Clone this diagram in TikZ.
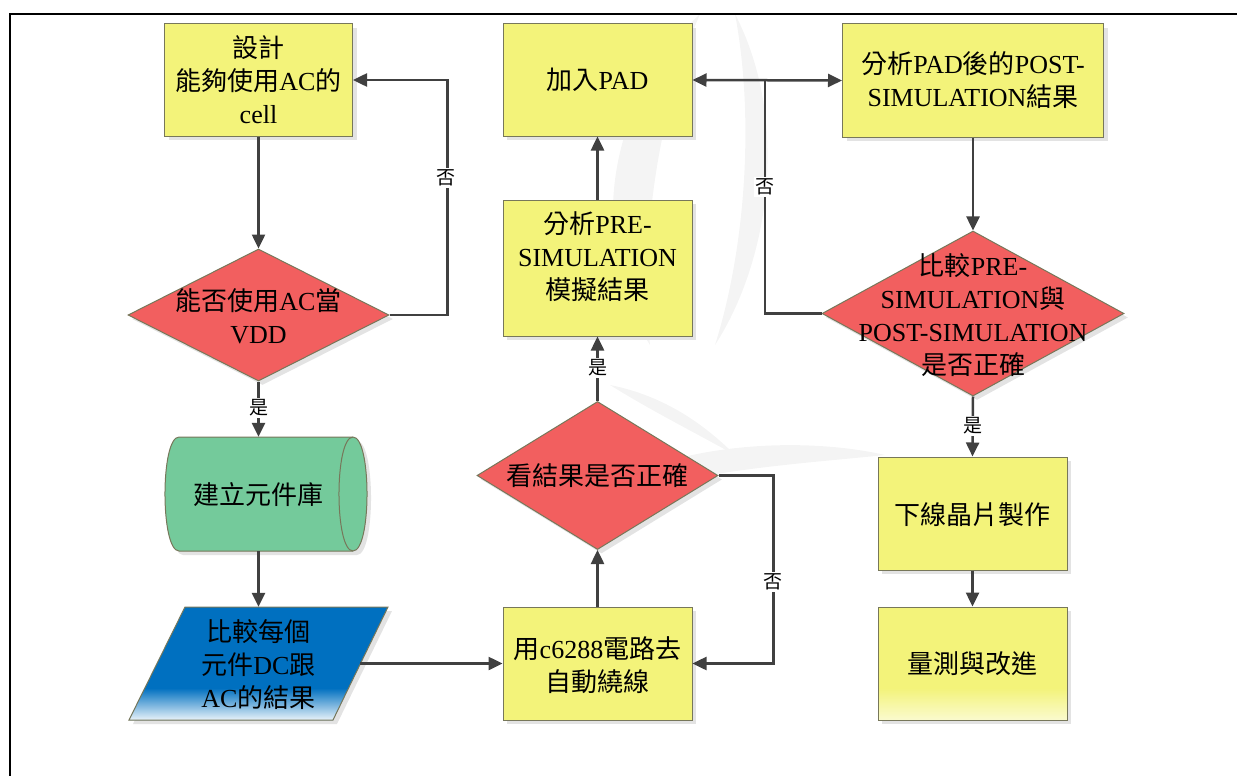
\documentclass[tikz,border=0pt]{standalone}
\usepackage{fontspec}
\setmainfont{Liberation Serif}
\newfontfamily\cjk{Noto Sans CJK TC}
\newcommand\zh[1]{{\cjk #1}}
\usetikzlibrary{shapes.geometric,arrows.meta,shadows}

\definecolor{boxyellow}{HTML}{F3F37A}
\definecolor{boxedge}{HTML}{77775A}
\definecolor{decred}{HTML}{F25F5F}
\definecolor{storegreen}{HTML}{74CA9B}
\definecolor{ioblue}{HTML}{0070C0}
\definecolor{linegray}{HTML}{404040}
\definecolor{shadowgray}{HTML}{E3E3E3}
\definecolor{wmgray}{HTML}{F4F4F4}

\begin{document}
\begin{tikzpicture}[x=1bp,y=-1bp,
  shapebase/.style={draw=boxedge, line width=1bp, inner sep=0pt,
    drop shadow={shadow xshift=4bp, shadow yshift=-4bp, fill=shadowgray, opacity=1}},
  procbox/.style={shapebase, rectangle, fill=boxyellow, minimum width=189bp, minimum height=113bp},
  decision/.style={shapebase, diamond, fill=decred},
  txt/.style={font=\fontsize{26bp}{33bp}\selectfont, align=center, inner sep=0pt},
  conn/.style={draw=linegray, line width=2.5bp},
  flow/.style={conn, -{Triangle[length=14bp,width=13bp]}},
  tag/.style={font=\cjk\fontsize{19bp}{22bp}\selectfont, fill=white, inner sep=2bp},
]
\useasboundingbox (0,0) rectangle (1237,776);

% faint watermark behind the chart
\fill[wmgray] (700,14) .. controls (600,110) and (590,250) .. (650,345)
  .. controls (640,250) and (655,120) .. (700,14);
\fill[wmgray] (735,14) .. controls (790,120) and (770,260) .. (715,345)
  .. controls (745,250) and (755,120) .. (735,14);
\fill[wmgray] (640,470) .. controls (720,440) and (820,440) .. (885,455)
  .. controls (820,462) and (720,468) .. (640,490) -- cycle;
\fill[wmgray] (610,385) .. controls (660,395) and (700,420) .. (735,455)
  .. controls (690,430) and (650,410) .. (610,385);

% page frame
\draw[line width=2.5bp] (10,776) -- (10,14) -- (1237,14);

% process boxes
\node[procbox, minimum width=188bp, minimum height=112bp] (design) at (258.5,80) {};
\node[procbox, minimum height=112bp] (addpad) at (597.5,80) {};
\node[procbox, minimum width=261bp] (post) at (973,80.5) {};
\node[procbox, minimum height=136bp] (pre) at (597.5,268) {};
\node[procbox] (route) at (597.5,663.5) {};
\node[procbox] (tapeout) at (972.5,513.5) {};
\node[procbox] (measure) at (972.5,663.5) {};
% pale fade along the bottom of the last box
\begin{scope}
  \clip (878,607) rectangle (1067,720);
  \shade[top color=boxyellow, bottom color=boxyellow!35!white] (870,688) rectangle (1075,721);
\end{scope}
\draw[boxedge, line width=1bp] (878,607) rectangle (1067,720);

% decisions
\node[decision, minimum width=261bp, minimum height=132bp] (acvdd) at (258.5,315) {};
\node[decision, minimum width=241bp, minimum height=148bp] (check) at (597.5,475.5) {};
\node[decision, minimum width=302bp, minimum height=165bp] (cmp) at (973,313.5) {};

% library store (horizontal cylinder)
\node[minimum width=188bp, minimum height=114bp, inner sep=0pt] (lib) at (258.5,494) {};
\fill[shadowgray] (183,441) -- (357,441) .. controls (375.7,441) and (375.7,555) .. (357,555)
  -- (183,555) .. controls (164.3,555) and (164.3,441) .. (183,441) -- cycle;
\filldraw[fill=storegreen, draw=boxedge, line width=1bp]
  (179,437) -- (353,437) .. controls (371.7,437) and (371.7,551) .. (353,551)
  -- (179,551) .. controls (160.3,551) and (160.3,437) .. (179,437) -- cycle;
\draw[boxedge, line width=1bp] (353,437) .. controls (334.3,437) and (334.3,551) .. (353,551);

% comparison data (parallelogram)
\node[minimum width=203.5bp, minimum height=113bp, inner sep=0pt] (compare) at (258.5,663.5) {};
\fill[shadowgray] (189,611) -- (392,611) -- (337,724) -- (133,724) -- cycle;
\fill[ioblue] (185,607) -- (388,607) -- (333,720) -- (129,720) -- cycle;
\begin{scope}
  \clip (185,607) -- (388,607) -- (333,720) -- (129,720) -- cycle;
  \shade[top color=ioblue, bottom color=ioblue!6!white] (120,688) rectangle (400,721);
\end{scope}
\draw[boxedge, line width=1bp] (185,607) -- (388,607) -- (333,720) -- (129,720) -- cycle;

% texts
\node[txt] (tdesign) at (258.5,80) {\zh{設計}\\\zh{能夠使用}AC\zh{的}\\cell};
\node[txt] (taddpad) at (597.5,80) {\zh{加入}PAD};
\node[txt] (tpost) at (973,80) {\zh{分析}PAD\zh{後的}POST-\\SIMULATION\zh{結果}};
\node[txt] (tpre) at (597.5,257) {\zh{分析}PRE-\\SIMULATION\\\zh{模擬結果}};
\node[txt] (troute) at (597.5,665) {\zh{用}c6288\zh{電路去}\\\zh{自動繞線}};
\node[txt] (ttapeout) at (972.5,515) {\zh{下線晶片製作}};
\node[txt] (tmeasure) at (972.5,664) {\zh{量測與改進}};
\node[txt] (tacvdd) at (258.5,316) {\zh{能否使用}AC\zh{當}\\VDD};
\node[txt] (tcheck) at (597.5,476) {\zh{看結果是否正確}};
\node[txt] (tcmp) at (973,315) {\zh{比較}PRE-\\SIMULATION\zh{與}\\POST-SIMULATION\\\zh{是否正確}};
\node[txt] (tlib) at (258.5,495) {\zh{建立元件庫}};
\node[txt] (tcompare) at (258.5,665) {\zh{比較每個}\\\zh{元件}DC\zh{跟}\\AC\zh{的結果}};

% connectors
\draw[flow] (design.south) -- (acvdd.north);
\draw[flow] (acvdd.east) -- ++(58,0) |- (design.east);
\node[tag] (no1) at (446,178) {否};
\draw[flow] (acvdd.south) -- (lib.north);
\node[tag] (yes1) at (258.5,408) {是};
\draw[flow] (lib.south) -- (compare.north);
\draw[flow] (compare.east) -- (route.west);
\draw[flow] (route.north) -- (check.south);
\draw[flow] (check.north) -- (pre.south);
\node[tag] (yes2) at (597.5,368) {是};
\draw[flow] (check.east) -- ++(55,0) |- (route.east);
\node[tag] (no2) at (773,582) {否};
\draw[flow] (pre.north) -- (addpad.south);
\draw[conn, {Triangle[length=14bp,width=13bp]}-{Triangle[length=14bp,width=13bp]}] (addpad.east) -- (post.west);
\coordinate (junction) at (765,80);
\draw[conn] (cmp.west) -| (junction);
\node[tag] (no3) at (765,187) {否};
\draw[flow] (post.south) -- (cmp.north);
\draw[flow] (cmp.south) -- (tapeout.north);
\node[tag] (yes3) at (973,426) {是};
\draw[flow] (tapeout.south) -- (measure.north);
\end{tikzpicture}
\end{document}
